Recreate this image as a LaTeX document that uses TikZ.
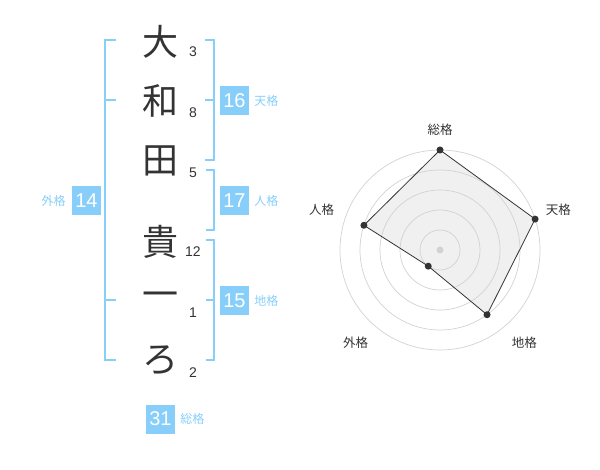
\documentclass[tikz,border=0pt]{standalone}
\usepackage{fontspec}
\setmainfont{Liberation Sans}
\newfontfamily\jpfont{Noto Sans CJK JP}
\usepackage{xcolor}
\usepackage{tikz}
\usetikzlibrary{positioning,calc}

\definecolor{kakublue}{HTML}{87CEFA}
\definecolor{inkgray}{HTML}{333333}
\definecolor{ringgray}{HTML}{D2D2D2}

\begin{document}
\begin{tikzpicture}[x=1pt,y=-1pt,
		kanji/.style={font=\jpfont\fontsize{36}{36}\selectfont, text=inkgray, inner sep=0pt},
		strokes/.style={font=\fontsize{14}{14}\selectfont, text=inkgray, inner sep=0pt},
		kakubox/.style={fill=kakublue, text=white, minimum size=29pt, inner sep=0pt, font=\fontsize{20}{20}\selectfont},
		kakulabel/.style={text=kakublue, font=\jpfont\fontsize{12}{12}\selectfont, inner sep=0pt},
		bracket/.style={draw=kakublue, line width=2pt},
		ring/.style={draw=ringgray, line width=0.7pt},
		axislabel/.style={text=inkgray, font=\jpfont\fontsize{12.5}{12.5}\selectfont, inner sep=0pt}]
		\useasboundingbox (0,0) rectangle (600,470);

		% name, one character per row
		\node[kanji] (c1) at (160,42) {大};
		\node[kanji] (c2) at (160,101) {和};
		\node[kanji] (c3) at (160,161) {田};
		\node[kanji] (c4) at (160,242) {貴};
		\node[kanji] (c5) at (160,300) {一};
		\node[kanji] (c6) at (160,360) {ろ};

		% stroke counts
		\node[strokes] (n1) at (193,52) {3};
		\node[strokes] (n2) at (193,113) {8};
		\node[strokes] (n3) at (193,173) {5};
		\node[strokes] (n4) at (193,252) {12};
		\node[strokes] (n5) at (193,313) {1};
		\node[strokes] (n6) at (193,373) {2};

		% brackets
		\draw[bracket] (116,40) -- (105,40) -- (105,360) -- (116,360);
		\draw[bracket] (105,100) -- (116,100);
		\draw[bracket] (105,300) -- (116,300);

		\draw[bracket] (205,40) -- (214,40) -- (214,160) -- (205,160);
		\draw[bracket] (205,100) -- (214,100);
		\draw[bracket] (206,170) -- (214,170) -- (214,230) -- (206,230);
		\draw[bracket] (206,240) -- (214,240) -- (214,360) -- (206,360);
		\draw[bracket] (206,300) -- (214,300);

		% fortune boxes
		\node[kakubox] (ten) at (234.5,100.5) {16};
		\node[kakulabel, right=5pt of ten] (tenl) {天格};
		\node[kakubox] (jin) at (234.5,200.5) {17};
		\node[kakulabel, right=5pt of jin] (jinl) {人格};
		\node[kakubox] (chi) at (234.5,300.5) {15};
		\node[kakulabel, right=5pt of chi] (chil) {地格};
		\node[kakubox] (gai) at (86.5,200.5) {14};
		\node[kakulabel, left=6pt of gai] (gail) {外格};
		\node[kakubox] (sou) at (160.5,419) {31};
		\node[kakulabel, right=5pt of sou] (soul) {総格};

		% radar chart
		\begin{scope}[shift={(440,250)}, yscale=-1]
			\coordinate (o) at (0,0);
			\coordinate (p1) at (90:100);
			\coordinate (p2) at (18:100);
			\coordinate (p3) at (-54:80);
			\coordinate (p4) at (-126:20);
			\coordinate (p5) at (162:80);
			\fill[black!6] (p1) -- (p2) -- (p3) -- (p4) -- (p5) -- cycle;
			\foreach \r in {20,40,60,80,100}
				\draw[ring] (o) circle (\r pt);
			\fill[ringgray] (o) circle (3.5pt);
			\draw[inkgray, line width=0.8pt] (p1) -- (p2) -- (p3) -- (p4) -- (p5) -- cycle;
			\foreach \p in {p1,p2,p3,p4,p5}
				\fill[inkgray] (\p) circle (3.5pt);

			\node[axislabel] (a1) at (90:120) {総格};
			\node[axislabel] (a2) at (18.6:125) {天格};
			\node[axislabel] (a3) at (-47.6:125) {地格};
			\node[axislabel] (a4) at (-132.4:125) {外格};
			\node[axislabel] (a5) at (161.4:125) {人格};
		\end{scope}
	\end{tikzpicture}
\end{document}
